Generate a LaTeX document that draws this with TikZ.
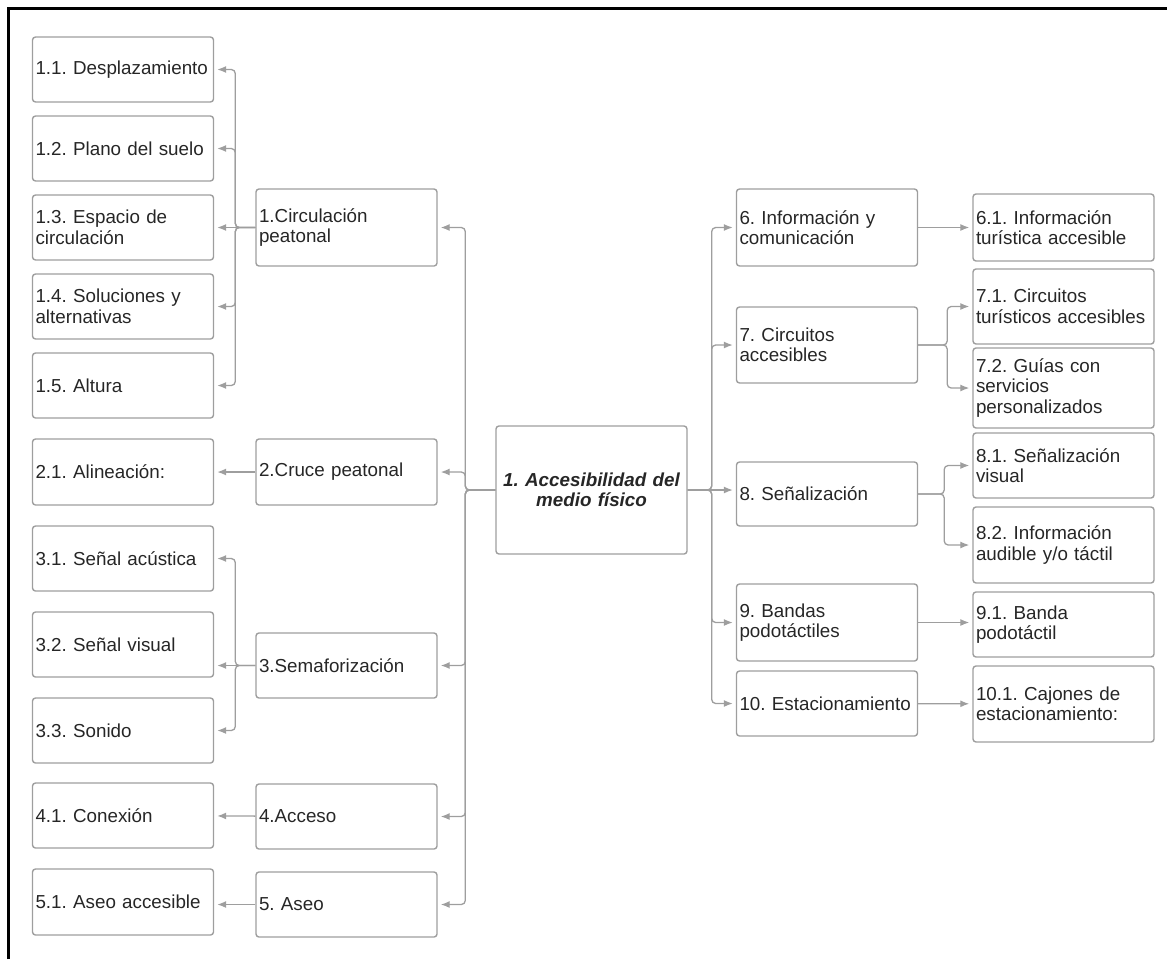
\documentclass[tikz,border=0pt]{standalone}
\usepackage{fontspec}
\setmainfont{Liberation Sans}
\usetikzlibrary{arrows.meta}
\frenchspacing
\hyphenpenalty=10000
\tikzset{
  caja/.style={draw=black!38, line width=1.4pt, rounded corners=3pt,
    text width=175pt, align=left, inner xsep=3pt, inner ysep=0pt,
    text=black!85, font=\fontsize{18.8}{20.5}\selectfont},
  cajamain/.style={caja, text width=185pt, align=center,
    font=\fontsize{18.8}{20.5}\selectfont\bfseries\itshape},
  conector/.style={draw=black!38, line width=1.3pt, rounded corners=4pt,
    -{Latex[length=9pt,width=7pt]}, shorten >=3pt}
}
\begin{document}
\begin{tikzpicture}[x=1pt,y=-1pt]
  \useasboundingbox (0,0) rectangle (1167,959);
  \draw[line width=3pt] (8,959) -- (8,8) -- (1167,8);

  % columna izquierda
  \node[caja, minimum height=65] (s11) at (123,69.5) {1.1. Desplazamiento};
  \node[caja, minimum height=65] (s12) at (123,148.5) {1.2. Plano del suelo};
  \node[caja, minimum height=65] (s13) at (123,227.5) {1.3. Espacio de\\circulación};
  \node[caja, minimum height=65] (s14) at (123,306.5) {1.4. Soluciones y\\alternativas};
  \node[caja, minimum height=65] (s15) at (123,385.5) {1.5. Altura};
  \node[caja, minimum height=66] (s21) at (123,472) {2.1. Alineación:};
  \node[caja, minimum height=65] (s31) at (123,558.5) {3.1. Señal acústica};
  \node[caja, minimum height=65] (s32) at (123,644.5) {3.2. Señal visual};
  \node[caja, minimum height=65] (s33) at (123,730.5) {3.3. Sonido};
  \node[caja, minimum height=65] (s41) at (123,815.5) {4.1. Conexión};
  \node[caja, minimum height=66] (s51) at (123,902) {5.1. Aseo accesible};

  % columna central izquierda
  \node[caja, minimum height=77] (circ) at (346.5,227.5) {1.Circulación\\peatonal};
  \node[caja, minimum height=66] (cruce) at (346.5,472) {2.Cruce peatonal};
  \node[caja, minimum height=65] (semaf) at (346.5,665.5) {3.Semaforización};
  \node[caja, minimum height=65] (acceso) at (346.5,816.5) {4.Acceso};
  \node[caja, minimum height=65] (aseo) at (346.5,904.5) {5. Aseo};

  \node[cajamain, minimum height=128] (main) at (591.5,490) {1. Accesibilidad del\\medio físico};

  % columna central derecha
  \node[caja, minimum height=77] (inf) at (827,227.5) {6. Información y\\comunicación};
  \node[caja, minimum height=76] (circu) at (827,345) {7. Circuitos\\accesibles};
  \node[caja, minimum height=64] (senal) at (827,494) {8. Señalización};
  \node[caja, minimum height=77] (bandas) at (827,622.5) {9. Bandas\\podotáctiles};
  \node[caja, minimum height=65] (estac) at (827,703.5) {10. Estacionamiento};

  % columna derecha
  \node[caja, minimum height=67] (inf61) at (1063.5,227.5) {6.1. Información\\turística accesible};
  \node[caja, minimum height=75] (cir71) at (1063.5,306.5) {7.1. Circuitos\\turísticos accesibles};
  \node[caja, minimum height=80] (cir72) at (1063.5,388) {7.2. Guías con\\servicios\\personalizados};
  \node[caja, minimum height=65] (sen81) at (1063.5,465.5) {8.1. Señalización\\visual};
  \node[caja, minimum height=76] (sen82) at (1063.5,545) {8.2. Información\\audible y/o táctil};
  \node[caja, minimum height=65] (ban91) at (1063.5,624.5) {9.1. Banda\\podotáctil};
  \node[caja, minimum height=76] (est101) at (1063.5,704) {10.1. Cajones de\\estacionamiento:};

  % conectores
  \foreach \n in {circ,cruce,semaf,acceso,aseo}
    \draw[conector] (main.west) -- ++(-30,0) |- (\n);
  \foreach \n in {inf,circu,bandas,estac}
    \draw[conector] (main.east) -- ++(24,0) |- (\n);
  \draw[conector] (main.east) -- (senal.west |- main.east);

  \foreach \n in {s11,s12,s14,s15}
    \draw[conector] (circ.west) -- ++(-20,0) |- (\n);
  \draw[conector] (circ) -- (s13);
  \draw[conector] (cruce) -- (s21);
  \foreach \n in {s31,s33}
    \draw[conector] (semaf.west) -- ++(-20,0) |- (\n);
  \draw[conector] (semaf.west) -- (s32.east |- semaf.west);
  \draw[conector] (acceso) -- (s41);
  \draw[conector] (aseo.west) -- (s51.east |- aseo.west);

  \draw[conector] (inf) -- (inf61);
  \foreach \n in {cir71,cir72}
    \draw[conector] (circu.east) -- ++(29,0) |- (\n);
  \foreach \n in {sen81,sen82}
    \draw[conector] (senal.east) -- ++(26,0) |- (\n);
  \draw[conector] (bandas.east) -- (ban91.west |- bandas.east);
  \draw[conector] (estac) -- (est101);
\end{tikzpicture}
\end{document}
